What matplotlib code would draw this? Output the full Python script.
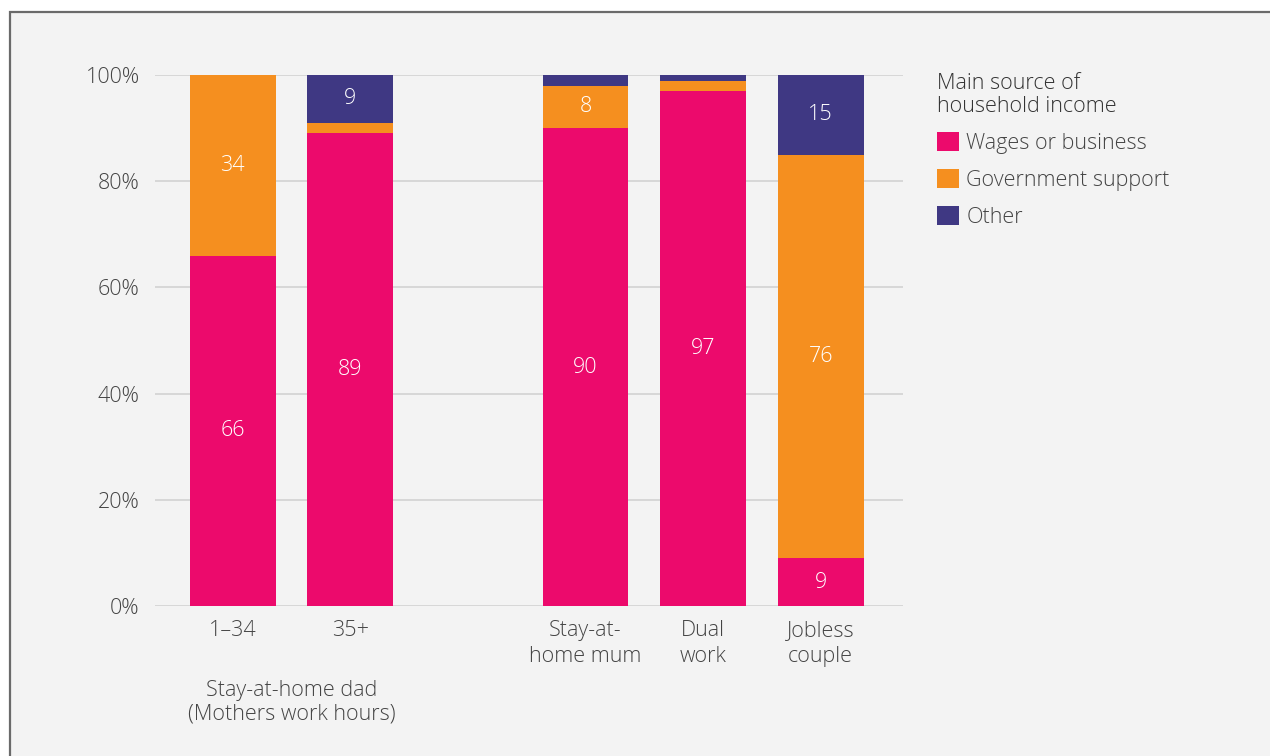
import matplotlib.pyplot as plt
from matplotlib.patches import Rectangle

plt.rcParams['font.family'] = ['Open Sans', 'DejaVu Sans']
plt.rcParams['font.weight'] = 'light'

categories = ['1–34', '35+', 'Stay-at-\nhome mum', 'Dual\nwork', 'Jobless\ncouple']
positions = [0, 1, 3, 4, 5]
wages = [66, 89, 90, 97, 9]
government = [34, 2, 8, 1.8, 76]
other = [0, 9, 2, 1.2, 15]
series_names = ['Wages or business', 'Government support', 'Other']
colors = ['#ec0a6c', '#f58f1f', '#3f3883']
label_min = 5  # only label segments that are big enough

text_col = '#444444'
fs = 15.5

fig = plt.figure(figsize=(12.7, 7.56), dpi=100, facecolor='white')
# grey panel with border on top/left
fig.patches.append(Rectangle((10 / 1270, -0.1), 1.2, 1.1 - 12 / 756,
                             transform=fig.transFigure, facecolor='#f3f3f3',
                             edgecolor='#6a6a6a', lw=1.6, zorder=-10))

ax = fig.add_axes([155 / 1270, 1 - 606 / 756, (903 - 155) / 1270, (606 - 75) / 756])
ax.set_facecolor('none')
ax.set_zorder(1)

bottom = [0] * len(positions)
for vals, name, col in zip([wages, government, other], series_names, colors):
    bars = ax.bar(positions, vals, width=0.73, bottom=bottom, color=col, label=name, zorder=3)
    for b, v in zip(bars, vals):
        if v >= label_min:
            ax.text(b.get_x() + b.get_width() / 2, b.get_y() + v / 2, f'{v:g}',
                    ha='center', va='center', color='white', fontsize=fs, zorder=4)
    bottom = [a + b for a, b in zip(bottom, vals)]

ax.set_ylim(0, 100)
ax.set_xlim(-0.66, 5.70)
ax.set_yticks(range(0, 101, 20))
ax.set_yticklabels([f'{t}%' for t in range(0, 101, 20)])
ax.yaxis.grid(True, color='#d4d4d4', lw=1.3, zorder=0)
ax.set_axisbelow(True)
ax.set_xticks(positions)
ax.set_xticklabels(categories, linespacing=1.3)
ax.tick_params(axis='both', length=0, labelsize=fs, labelcolor=text_col)
ax.tick_params(axis='y', pad=11)
ax.tick_params(axis='x', pad=10)
for s in ax.spines.values():
    s.set_visible(False)

ax.text(0.5, -0.14, 'Stay-at-home dad\n(Mothers work hours)', transform=ax.get_xaxis_transform(),
        ha='center', va='top', fontsize=fs, color=text_col, linespacing=1.15)

leg = ax.legend(loc='upper left', bbox_to_anchor=(918 / 1270, 1 - 54 / 756),
                bbox_transform=fig.transFigure, frameon=False, fontsize=fs,
                title='Main source of\nhousehold income', title_fontsize=fs,
                alignment='left', handlelength=1.0, handleheight=1.0,
                handletextpad=0.35, labelspacing=0.7)
leg.get_title().set_color('#333333')
leg.get_title().set_linespacing(1.1)
for t in leg.get_texts():
    t.set_color(text_col)

fig.savefig('out.png', dpi=100, facecolor=fig.get_facecolor())
